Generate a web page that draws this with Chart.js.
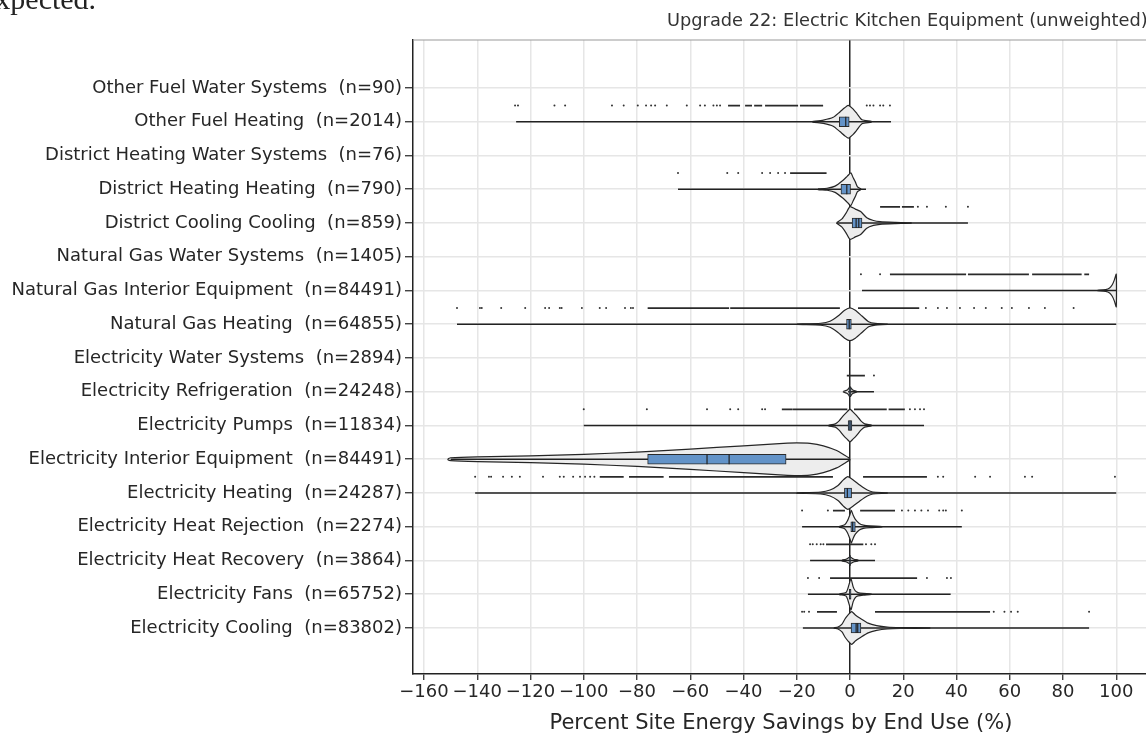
<!DOCTYPE html>
<html>
<head>
<meta charset="utf-8">
<script src="https://cdn.jsdelivr.net/npm/chart.js@4.4.1/dist/chart.umd.min.js"></script>
<style>
  html, body { margin: 0; padding: 0; background: #fff; overflow: hidden; }
</style>
</head>
<body>
<canvas id="myChart" width="1155" height="748"></canvas>
<script>
// end uses, top to bottom
const endUses = [
  'Other Fuel Water Systems', 'Other Fuel Heating', 'District Heating Water Systems',
  'District Heating Heating', 'District Cooling Cooling', 'Natural Gas Water Systems',
  'Natural Gas Interior Equipment', 'Natural Gas Heating', 'Electricity Water Systems',
  'Electricity Refrigeration', 'Electricity Pumps', 'Electricity Interior Equipment',
  'Electricity Heating', 'Electricity Heat Rejection', 'Electricity Heat Recovery',
  'Electricity Fans', 'Electricity Cooling'
];
const counts = [90, 2014, 76, 790, 859, 1405, 84491, 64855, 2894, 24248, 11834, 84491, 24287, 2274, 3864, 65752, 83802];

// whisker range (min / max)
const mins = [null, -125.4, null, -64.6, -4.9, null, 4.5, -147.6, null, -0.7, -100, -150, -140.8, -18, -15, -15.8, -17.7];
const maxs = [null, 15.4, null, 6, 44.3, null, 100, 100, null, 9, 27.8, 0, 100, 42, 9.4, 37.8, 89.8];

// box: quartiles, median, mean
const q1s = [null, -4, null, -3.4, 0.8, null, null, -1.3, null, -0.4, -0.7, -76, -2.1, 0.3, -0.2, -0.3, 0.4];
const q3s = [null, -0.3, null, 0.2, 4.5, null, null, 0.5, null, 0.4, 0.7, -24, 0.6, 2, 0.2, 0.4, 4.1];
const medians = [null, -1.6, null, -1.2, 2.3, null, null, -0.3, null, 0, 0, -45.4, -1, 1, 0, 0, 2.3];
const means = [null, null, null, null, 3.3, null, null, null, null, null, null, -53.7, null, null, null, null, 2.9];

// violin outline: x positions and relative half widths
const violinX = [
  null,
  [-14, -10, -6.3, -3.8, -2, -0.7, 1, 2.6, 4.5, 8],
  null,
  [-12, -8.6, -5.6, -2.6, -1, 0.3, 1.2, 2, 2.8, 4],
  [-5, -3, -1.5, 0, 2, 4, 6.3, 8.8, 11.3, 17, 23],
  null,
  [93, 96, 97.5, 98.5, 99.3, 100],
  [-20, -11, -7.5, -4.5, -2, 0, 2, 4.5, 7, 9.5, 14],
  null,
  [-2.5, -1, 0, 1, 2.5],
  [-8, -5.5, -4, -2.5, -1, 0, 1, 2.5, 4, 5.5, 8],
  [-151, -150, -140, -120, -100, -80, -60, -40, -25, -20, -15, -10, -5, -2, 0],
  [-20, -11, -7.5, -4.5, -2.5, -0.8, 1.2, 3.8, 6.5, 8.6, 14],
  [-4, -2, -1, 0, 0.5, 1.2, 2, 3.5, 5, 7.5, 12],
  [-3, -1.5, 0, 1.5, 3],
  [-4, -1.5, -0.8, 0, 0.4, 1.2, 2, 3, 5, 8],
  [-6, -4.5, -3, -1.9, -0.7, 0.6, 2, 3.8, 6.8, 10, 14, 19, 30]
];
const violinW = [
  null,
  [0.02, 0.1, 0.27, 0.6, 0.85, 1.0, 0.8, 0.5, 0.12, 0.02],
  null,
  [0.02, 0.06, 0.19, 0.55, 0.8, 1.0, 0.7, 0.45, 0.15, 0.03],
  [0.02, 0.25, 0.6, 1.0, 0.85, 0.7, 0.32, 0.15, 0.08, 0.04, 0.015],
  null,
  [0.01, 0.05, 0.15, 0.35, 0.65, 1.0],
  [0.015, 0.06, 0.18, 0.5, 0.85, 1.0, 0.85, 0.5, 0.15, 0.05, 0.015],
  null,
  [0.02, 0.1, 0.28, 0.1, 0.02],
  [0.02, 0.1, 0.3, 0.6, 0.85, 1.0, 0.85, 0.6, 0.3, 0.1, 0.02],
  [0.03, 0.09, 0.15, 0.21, 0.3, 0.44, 0.62, 0.82, 0.97, 1.0, 0.97, 0.82, 0.53, 0.24, 0.03],
  [0.015, 0.06, 0.18, 0.46, 0.8, 1.0, 0.8, 0.47, 0.18, 0.06, 0.015],
  [0.02, 0.12, 0.35, 0.75, 1.0, 0.7, 0.45, 0.2, 0.1, 0.05, 0.015],
  [0.02, 0.08, 0.2, 0.08, 0.02],
  [0.02, 0.1, 0.35, 0.8, 0.95, 0.45, 0.2, 0.1, 0.05, 0.015],
  [0.01, 0.06, 0.24, 0.55, 0.8, 1.0, 0.8, 0.6, 0.3, 0.15, 0.06, 0.03, 0.01]
];

// outliers: single points and dense runs
const outlierPts = [
  [],
  [-125.8, -124.7, -111, -107, -89.4, -85, -79.7, -76.6, -74.7, -73.2, -68.8, -61.3, -56.3, -54.5, -51.3, -50, -48.8, 6.3, 7.5, 8.8, 11.3, 12.5, 15],
  [],
  [-64.6, -46.1, -42, -33, -30, -27, -24.4],
  [25.5, 28.9, 36, 44.3],
  [],
  [4.1, 11.3],
  [-147.6, -139, -138.3, -131, -122, -114.5, -113, -109, -108.3, -100.7, -94, -91.6, -84.5, -82.3, -81.5, 28.5, 33, 36.4, 41.3, 46.6, 51, 57, 60.8, 67.2, 73.2, 84],
  [],
  [9],
  [-100, -76.3, -53.7, -45, -42, -33, -31.9, 22.5, 24.4, 26.3, 27.8],
  [],
  [-140.8, -135.6, -134.8, -130.3, -127, -124, -115.3, -109, -107.5, -104, -101.4, -99.5, -97.6, -96, 33, 35, 47, 52.6, 65.7, 68.4, 99.5],
  [-18, -8.3, 19.5, 21.9, 24.4, 26.8, 29.3, 33.5, 35, 36, 42],
  [-15, -14, -12.5, -11, -10, 6, 8, 9.4],
  [-15.8, -11.6, 28.9, 36.4, 37.9],
  [-18, -17.2, -15.4, 54, 58, 60.5, 63, 89.8]
];
const outlierRuns = [
  [],
  [[-45.8, -41.3], [-39.4, -36.8], [-36, -33], [-31.9, -19.5], [-18.8, -10.1]],
  [],
  [[-22.5, -8.8]],
  [[11.3, 18.8], [19.5, 24]],
  [],
  [[15, 43.6], [44.3, 67.2], [68.4, 87], [88, 89.8]],
  [[-76, -45.4], [-45, -3.8], [3, 26]],
  [],
  [[-1.2, 5.6]],
  [[-25.6, -21.5], [-21.4, -1], [1.5, 13.8], [14.5, 20.6]],
  [],
  [[-94, -85], [-83, -70], [-68, -6.4], [4.9, 28.9]],
  [[-6.4, -1.9], [3.8, 16.9]],
  [[-9, 5]],
  [[-7.5, 25.2]],
  [[-12.4, -4.9], [9.4, 52.6]]
];

const labels = endUses.map((u, i) => u + '  (n=' + counts[i] + ')');

const VW = 0.485;   // max violin half width (category units)
const OFF = 0.48;   // outlier row offset above each category
const FONT = 'DejaVu Sans';
const ZERO_PX = 850, PX_PER_UNIT = 2.6625;   // x axis placement as in the original figure

const datasets = [];

// violins
endUses.forEach((_, i) => {
  const xs = violinX[i];
  if (!xs) return;
  const ws = violinW[i];
  const top = xs.map((x, k) => ({ x, y: i - ws[k] * VW }));
  const bot = xs.map((x, k) => ({ x, y: i + ws[k] * VW })).reverse();
  datasets.push({
    type: 'scatter', data: top.concat(bot, [top[0]]), showLine: true, fill: 'shape',
    backgroundColor: '#ededed', borderColor: '#262626', borderWidth: 1.2, pointRadius: 0,
    tension: 0.2, order: 4
  });
});

// whiskers
const whiskerPts = [];
mins.forEach((m, i) => {
  if (m === null) return;
  whiskerPts.push({ x: m, y: i }, { x: maxs[i], y: i }, { x: null, y: null });
});
datasets.push({
  type: 'scatter', data: whiskerPts, showLine: true, spanGaps: false,
  borderColor: '#222', borderWidth: 1.5, pointRadius: 0, order: 2
});

// dense outlier runs
const runPts = [];
outlierRuns.forEach((runs, i) => {
  runs.forEach(r => runPts.push({ x: r[0], y: i - OFF }, { x: r[1], y: i - OFF }, { x: null, y: null }));
});
datasets.push({
  type: 'scatter', data: runPts, showLine: true, spanGaps: false,
  borderColor: '#2a2a2a', borderWidth: 1.8, pointRadius: 0, order: 3
});

// single outliers
const ptData = [];
outlierPts.forEach((pts, i) => pts.forEach(x => ptData.push({ x, y: i - OFF })));
datasets.push({
  type: 'scatter', data: ptData, pointRadius: 1, pointBorderWidth: 0,
  backgroundColor: '#333', borderColor: '#333', order: 3
});

// boxes
const boxData = [];
q1s.forEach((q, i) => { if (q !== null) boxData.push({ x: [q, q3s[i]], y: i }); });
datasets.push({
  type: 'bar', indexAxis: 'y', data: boxData, backgroundColor: '#6393c8',
  borderColor: '#2a2a2a', borderWidth: 1, borderSkipped: false, barThickness: 10, order: 1
});

// median and mean marks
const midData = [];
medians.forEach((m, i) => { if (m !== null) midData.push({ x: m, y: i }); });
means.forEach((m, i) => { if (m !== null) midData.push({ x: m, y: i }); });
datasets.push({
  type: 'scatter', data: midData, pointStyle: 'line', rotation: 90, pointRadius: 5,
  borderColor: '#222', borderWidth: 1.2, order: 0
});

const decor = {
  id: 'decor',
  beforeDraw(chart) {
    const c = chart.ctx;
    c.save();
    c.fillStyle = '#fff';
    c.fillRect(0, 0, chart.width, chart.height);
    c.restore();
  },
  afterDraw(chart) {
    const c = chart.ctx;
    const a = chart.chartArea;
    c.save();
    // top spine
    c.strokeStyle = '#999';
    c.lineWidth = 1.2;
    c.beginPath();
    c.moveTo(a.left, a.top);
    c.lineTo(a.right, a.top);
    c.stroke();
    // subplot title
    c.fillStyle = '#333';
    c.font = '17.8px "' + FONT + '"';
    c.textBaseline = 'alphabetic';
    c.textAlign = 'left';
    c.fillText('Upgrade 22: Electric Kitchen Equipment (unweighted)', 667, 26);
    // leftover text from the page above
    c.fillStyle = '#222';
    c.font = '30px "Liberation Serif"';
    c.fillText('expected.', -18, 8.5);
    c.restore();
  }
};

const ctx = document.getElementById('myChart').getContext('2d');
const myChart = new Chart(ctx, {
  type: 'scatter',
  data: { datasets },
  options: {
    responsive: false,
    animation: false,
    layout: { padding: { top: 40, left: 0, right: 0, bottom: 0 } },
    plugins: { legend: { display: false }, tooltip: { enabled: false } },
    scales: {
      x: {
        type: 'linear', min: -164.13, max: 114.55, offset: false,
        afterFit: s => { s.height = 74; },
        border: { color: '#222', width: 1.5 },
        grid: {
          offset: false,
          color: c => (c.tick && c.tick.value === 0 ? '#222' : '#e6e6e6'),
          lineWidth: 1.5, tickColor: '#222', tickLength: 6, tickWidth: 1.2
        },
        ticks: {
          stepSize: 20, includeBounds: false, autoSkip: false, maxRotation: 0, padding: 2,
          color: '#262626', font: { family: FONT, size: 18 },
          callback: v => String(v).replace('-', '\u2212')
        },
        title: {
          display: true, text: 'Percent Site Energy Savings by End Use (%)',
          color: '#262626', font: { family: FONT, size: 21 }, padding: { top: 0, bottom: 12 }
        }
      },
      y: {
        type: 'linear', reverse: true, min: -1.422, max: 17.363, offset: false,
        afterFit: s => { s.width = 413; },
        afterBuildTicks: s => { s.ticks = endUses.map((_, i) => ({ value: i })); },
        border: { color: '#222', width: 1.5 },
        grid: { offset: false, color: '#e6e6e6', lineWidth: 1.5, tickColor: '#222', tickLength: 8, tickWidth: 1.2 },
        ticks: {
          autoSkip: false, padding: 3, color: '#262626', font: { family: FONT, size: 18 },
          callback: v => labels[v]
        }
      }
    }
  },
  plugins: [decor]
});

// set the x range from the actual plot area so that 0 and the unit width match the original
const area = myChart.chartArea;
myChart.options.scales.x.min = -(ZERO_PX - area.left) / PX_PER_UNIT;
myChart.options.scales.x.max = (area.right - ZERO_PX) / PX_PER_UNIT;
myChart.update();
</script>
</body>
</html>
